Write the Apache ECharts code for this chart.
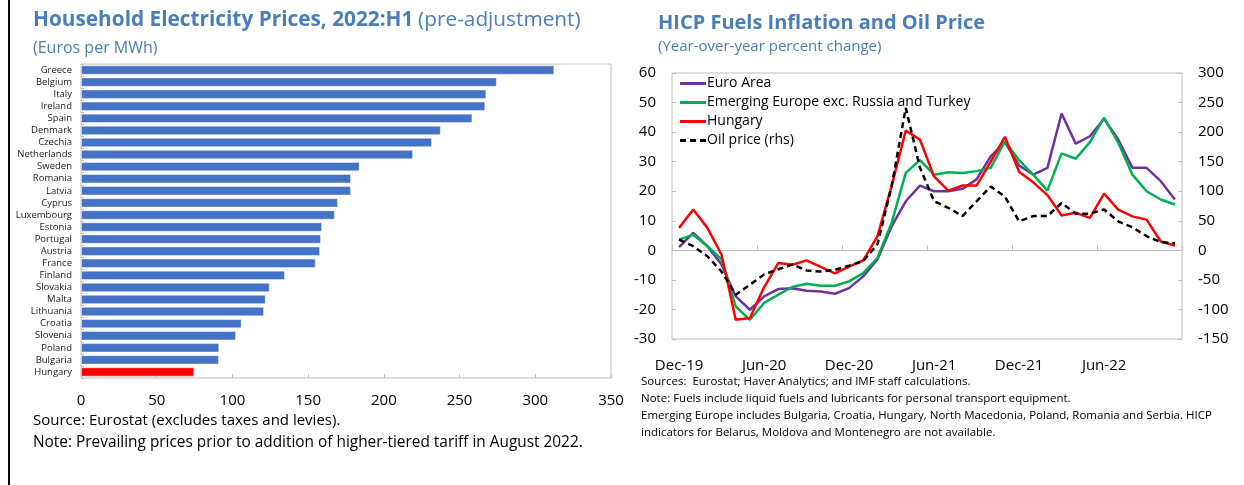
<!DOCTYPE html>
<html>
<head>
<meta charset="utf-8">
<script src="https://cdn.jsdelivr.net/npm/echarts@6/dist/echarts.min.js"></script>
<style>
body{margin:0;background:#fff;}
#main{width:1244px;height:485px;}
</style>
</head>
<body>
<div id="main"></div>
<script>
// left panel: household electricity prices (euros per MWh)
var countries = ['Greece','Belgium','Italy','Ireland','Spain','Denmark','Czechia','Netherlands','Sweden','Romania','Latvia','Cyprus','Luxembourg','Estonia','Portugal','Austria','France','Finland','Slovakia','Malta','Lithuania','Croatia','Slovenia','Poland','Bulgaria','Hungary'];
var prices = [312.6,274.6,267.7,267,258.5,237.6,231.8,219.3,184,178.3,178.3,169.7,167.6,159.2,158.5,157.9,155,134.7,124.6,122,120.9,106.1,102.4,91.3,91.1,74.8];

// right panel: HICP fuels inflation (lhs) and oil price (rhs), y/y percent
var months = ['Dec-19','Jan-20','Feb-20','Mar-20','Apr-20','May-20','Jun-20','Jul-20','Aug-20','Sep-20','Oct-20','Nov-20',
  'Dec-20','Jan-21','Feb-21','Mar-21','Apr-21','May-21','Jun-21','Jul-21','Aug-21','Sep-21','Oct-21','Nov-21',
  'Dec-21','Jan-22','Feb-22','Mar-22','Apr-22','May-22','Jun-22','Jul-22','Aug-22','Sep-22','Oct-22','Nov-22'];
var euroArea = [1.1,5.9,1.4,-4.8,-15.6,-20.1,-15.6,-13.1,-12.8,-13.7,-13.9,-14.7,
  -12.8,-8.8,-3.1,8.1,16.6,21.9,20,20,20.8,24,31.8,36.6,
  28.7,25.6,27.9,46.3,36.1,38.6,44.5,37.5,27.9,27.9,23.4,17.2];
var emergingEurope = [3.6,5.3,1.4,-3.1,-19,-23.5,-17.8,-15,-12.4,-11.3,-12,-12,
  -10.5,-7.7,-2.6,9.3,26.2,30.5,25.6,26.4,26.2,26.8,27.9,36.9,
  30.5,25.6,20.2,32.8,31,36.6,44.8,36.4,25.6,20,17.2,15.5];
var hungary = [7.6,13.8,7.6,-1.5,-23.5,-22.9,-12.5,-4.3,-4.9,-3.4,-5.6,-7.8,
  -5.5,-3.4,4.7,21.7,40.5,37.5,25,20.2,21.9,21.9,30,38.4,
  26.6,23,18.7,11.8,12.7,11,19.2,13.8,11.5,10.4,3,1.6];
var oilPrice = [18,7,-10,-36,-75,-58,-41,-32,-24,-34,-36,-33,
  -26,-18,10,108,241,140,83,72,58,83,108,91,
  49,58,58,80,62,62,69,49,39,24,14,12];

var FONT = 'Open Sans';
var BLUE_TITLE = '#4a7ebb';
var LINE_ICON = 'path://M0,0h26v3h-26z';
var DASH_ICON = 'path://M0,0h6v3h-6z M10,0h6v3h-6z M20,0h6v3h-6z';

var myChart = echarts.init(document.getElementById('main'));
var option = {
  textStyle: {fontFamily: FONT},
  animation: false,
  title: [
    {
      left: 33, top: 10, padding: 0,
      text: '{b|Household Electricity Prices, 2022:H1} {n|(pre-adjustment)}',
      textStyle: {
        rich: {
          b: {fontFamily: FONT, fontSize: 20.8, fontWeight: 'bold', color: BLUE_TITLE},
          n: {fontFamily: FONT, fontSize: 20.8, fontWeight: 'normal', color: BLUE_TITLE}
        }
      }
    },
    {
      left: 33, top: 40, padding: 0, text: '(Euros per MWh)',
      textStyle: {fontFamily: FONT, fontSize: 16, fontWeight: 'normal', color: BLUE_TITLE}
    },
    {
      left: 658, top: 13, padding: 0, text: 'HICP Fuels Inflation and Oil Price',
      textStyle: {fontFamily: FONT, fontSize: 20, fontWeight: 'bold', color: BLUE_TITLE}
    },
    {
      left: 658, top: 39, padding: 0, text: '(Year-over-year percent change)',
      textStyle: {fontFamily: FONT, fontSize: 15, fontWeight: 'normal', color: BLUE_TITLE}
    }
  ],
  grid: [
    {left: 81, top: 64, width: 530, height: 314, show: true, borderColor: '#bfbfbf', borderWidth: 1, backgroundColor: '#fff'},
    {left: 672, top: 73, width: 510, height: 266, show: true, borderColor: '#bfbfbf', borderWidth: 1, backgroundColor: '#fff'}
  ],
  legend: {
    orient: 'vertical',
    left: 680, top: 76, padding: 0,
    itemWidth: 26, itemHeight: 3, itemGap: 4,
    textStyle: {fontFamily: FONT, fontSize: 14, color: '#000', lineHeight: 15, padding: [0, 0, 0, -4]},
    data: [
      {name: 'Euro Area', icon: LINE_ICON},
      {name: 'Emerging Europe exc. Russia and Turkey', icon: LINE_ICON},
      {name: 'Hungary', icon: LINE_ICON},
      {name: 'Oil price (rhs)', icon: DASH_ICON}
    ]
  },
  xAxis: [
    {
      gridIndex: 0, type: 'value', min: 0, max: 350, interval: 50,
      splitLine: {show: false},
      axisLine: {show: false},
      axisTick: {show: true, inside: true, length: 4, lineStyle: {color: '#bfbfbf'}},
      axisLabel: {fontSize: 15, color: '#000', margin: 15}
    },
    {
      gridIndex: 1, type: 'category', data: months, boundaryGap: true,
      axisLine: {show: false, onZero: false},
      axisTick: {show: false},
      axisLabel: {interval: 5, fontSize: 15, color: '#000', margin: 19}
    },
    {
      // tick marks sitting on the zero line
      gridIndex: 1, type: 'category', data: months, boundaryGap: true, position: 'bottom',
      axisLine: {show: true, onZero: true, lineStyle: {color: '#bfbfbf', width: 1}},
      axisTick: {show: true, inside: true, interval: 5, length: 5, lineStyle: {color: '#bfbfbf'}},
      axisLabel: {show: false}
    }
  ],
  yAxis: [
    {
      gridIndex: 0, type: 'category', data: countries, inverse: true,
      axisLine: {show: false},
      axisTick: {show: true, inside: true, length: 3, lineStyle: {color: '#bfbfbf'}},
      axisLabel: {interval: 0, fontSize: 9.5, color: '#222', margin: 9}
    },
    {
      gridIndex: 1, type: 'value', min: -30, max: 60, interval: 10,
      splitLine: {show: false},
      axisLine: {show: false},
      axisTick: {show: true, inside: true, length: 4, lineStyle: {color: '#bfbfbf'}},
      axisLabel: {fontSize: 15, color: '#000', margin: 16}
    },
    {
      gridIndex: 1, type: 'value', position: 'right', min: -150, max: 300, interval: 50,
      splitLine: {show: false},
      axisLine: {show: false},
      axisTick: {show: true, inside: true, length: 4, lineStyle: {color: '#bfbfbf'}},
      axisLabel: {fontSize: 15, color: '#000', margin: 16}
    }
  ],
  series: [
    {
      type: 'bar', xAxisIndex: 0, yAxisIndex: 0,
      barCategoryGap: '22%',
      data: prices.map(function(v, i){
        return {value: v, itemStyle: {color: countries[i] === 'Hungary' ? '#ff0000' : '#4472c4'}};
      }),
      itemStyle: {borderColor: 'rgba(255,255,255,0.45)', borderWidth: 1}
    },
    {
      name: 'Euro Area', type: 'line', xAxisIndex: 1, yAxisIndex: 1,
      data: euroArea, symbol: 'none', color: '#7030a0',
      lineStyle: {width: 2.5, color: '#7030a0'}
    },
    {
      name: 'Emerging Europe exc. Russia and Turkey', type: 'line', xAxisIndex: 1, yAxisIndex: 1,
      data: emergingEurope, symbol: 'none', color: '#00b050',
      lineStyle: {width: 2.5, color: '#00b050'}
    },
    {
      name: 'Hungary', type: 'line', xAxisIndex: 1, yAxisIndex: 1,
      data: hungary, symbol: 'none', color: '#ff0000',
      lineStyle: {width: 2.5, color: '#ff0000'}
    },
    {
      name: 'Oil price (rhs)', type: 'line', xAxisIndex: 1, yAxisIndex: 2,
      data: oilPrice, symbol: 'none', color: '#000',
      lineStyle: {width: 2.5, color: '#000', type: [6, 4]}
    }
  ],
  graphic: [
    {type: 'line', shape: {x1: 9, y1: 0, x2: 9, y2: 485}, style: {stroke: '#000', lineWidth: 2}},
    {type: 'text', left: 33, top: 413, style: {text: 'Source: Eurostat (excludes taxes and levies).', font: '15px "Open Sans"', fill: '#000'}},
    {type: 'text', left: 33, top: 435, style: {text: 'Note: Prevailing prices prior to addition of higher-tiered tariff in August 2022.', font: '15.4px "Open Sans"', fill: '#000'}},
    {type: 'text', left: 641, top: 376, style: {text: 'Sources:  Eurostat; Haver Analytics; and IMF staff calculations.', font: '11.5px "Open Sans"', fill: '#000'}},
    {type: 'text', left: 641, top: 393, style: {text: 'Note: Fuels include liquid fuels and lubricants for personal transport equipment.', font: '11.5px "Open Sans"', fill: '#000'}},
    {type: 'text', left: 641, top: 410, style: {text: 'Emerging Europe includes Bulgaria, Croatia, Hungary, North Macedonia, Poland, Romania and Serbia. HICP', font: '11.5px "Open Sans"', fill: '#000'}},
    {type: 'text', left: 641, top: 427, style: {text: 'indicators for Belarus, Moldova and Montenegro are not available.', font: '11.5px "Open Sans"', fill: '#000'}}
  ]
};
myChart.setOption(option);
window.onresize = function(){
  myChart.resize();
};
</script>
</body>
</html>
